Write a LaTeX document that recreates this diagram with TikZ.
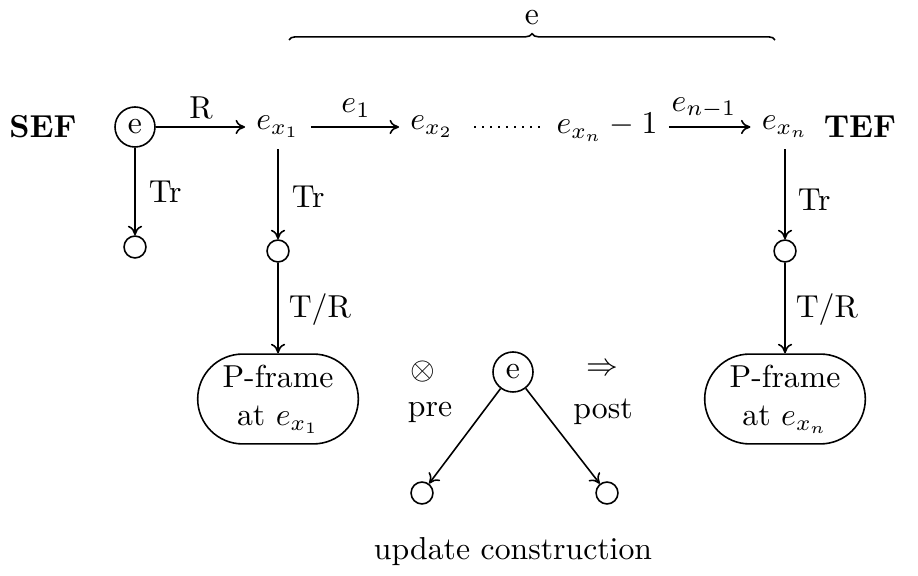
\documentclass[tikz,border=0pt]{standalone}
\usetikzlibrary{arrows.meta,shapes.misc,decorations.pathreplacing}
\begin{document}
\begin{tikzpicture}[x=0.315pt,y=-0.315pt,
  line width=0.5pt,
  conn/.style={-{To[length=3pt,width=4.5pt]}},
  bigc/.style={circle,draw,minimum size=12.6pt,inner sep=0pt},
  smallc/.style={circle,draw,minimum size=6.9pt,inner sep=0pt},
  pbox/.style={rounded rectangle,draw,minimum width=52.6pt,minimum height=28.3pt,align=center,inner sep=1pt},
  lab/.style={inner sep=1pt},
  rlab/.style={inner sep=0pt,anchor=west}]
\useasboundingbox (0,0) rectangle (918,576);
% top row
\node (sef) at (43,127) {\textbf{SEF}};
\node[bigc] (e0) at (135,127) {e};
\node (ex1) at (278,127) {$e_{x_1}$};
\node (ex2) at (432,127) {$e_{x_2}$};
\node (exn1) at (607,127) {$e_{x_n}-1$};
\node (exn) at (785,127) {$e_{x_n}$};
\node (tef) at (860,127) {\textbf{TEF}};
\node[lab] (lR) at (201,108) {R};
\node[lab] (le1) at (356,108) {$e_1$};
\node[lab] (len) at (704,108) {$e_{n-1}$};
\draw[conn] (e0) -- (ex1.west);
\draw[conn] (ex1) -- (ex2);
\draw[dotted,shorten <=3pt,shorten >=1pt] (ex2) -- (exn1);
\draw[conn] (exn1) -- (exn);
% brace
\coordinate (bl) at (289,40);
\coordinate (br) at (775,40);
\draw[decorate,decoration={brace,amplitude=2pt}] (bl) -- (br);
\node (etop) at (532,18) {e};
% verticals
\node[smallc] (s0) at (135,247) {};
\node[smallc] (s1) at (278,251) {};
\node[smallc] (s2) at (785,251) {};
\draw[conn] (e0) -- (s0);
\draw[conn] (ex1) -- (s1);
\draw[conn] (exn) -- (s2);
\node[rlab] (tr0) at (148,192) {Tr};
\node[rlab] (tr1) at (291,197) {Tr};
\node[rlab] (tr2) at (797,200) {Tr};
\node[pbox] (b1) at (278,399) {P-frame\\at $e_{x_1}$};
\node[pbox] (b2) at (785,399) {P-frame\\at $e_{x_n}$};
\draw[conn] (s1) -- (b1);
\draw[conn] (s2) -- (b2);
\node[rlab] (tr3) at (288,310) {T/R};
\node[rlab] (tr4) at (795,310) {T/R};
% update construction
\node[bigc] (ue) at (513,372) {e};
\node (ot) at (423,372) {$\otimes$};
\node (ar) at (602,370) {$\Rightarrow$};
\node (pre) at (430,412) {pre};
\node (post) at (603,412) {post};
\node[smallc] (ul) at (422,493) {};
\node[smallc] (ur) at (607,493) {};
\draw[conn] (ue) -- (ul);
\draw[conn] (ue) -- (ur);
\node (uc) at (513,552) {update construction};
\end{tikzpicture}
\end{document}
